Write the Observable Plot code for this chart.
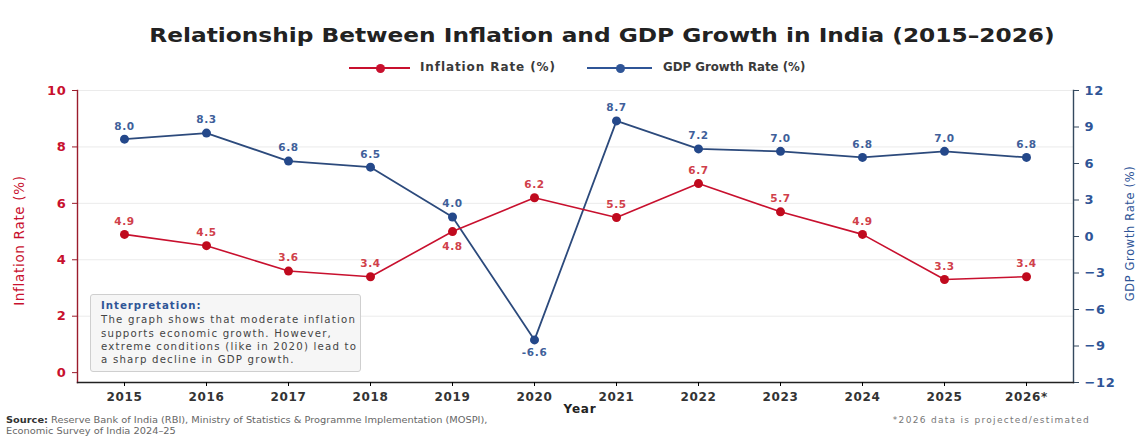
<!DOCTYPE html>
<html>
<head>
<meta charset="utf-8">
<script src="https://cdn.jsdelivr.net/npm/d3@7"></script>
<script src="https://cdn.jsdelivr.net/npm/@observablehq/plot@0.6"></script>
<style>
  html, body { margin: 0; padding: 0; background: #fff; width: 1142px; height: 441px; overflow: hidden; font-family: "DejaVu Sans", sans-serif; }
  #title { position: absolute; top: 23px; left: 31px; width: 1142px; text-align: center; font-size: 20px; font-weight: 700; color: #222; transform: scaleX(1.163); transform-origin: 571px 0; white-space: nowrap; }
  #legend { position: absolute; top: 60px; left: 0; width: 1142px; height: 16px; font-size: 12px; font-weight: 700; color: #3a3a3a; }
  .sw { position: absolute; top: 1px; height: 14px; }
  .sw .ln { position: absolute; left: 0; right: 0; top: 6px; height: 2px; }
  .sw .dt { position: absolute; top: 3px; width: 9px; height: 9px; border-radius: 50%; margin-left: -4.5px; }
  .lt { position: absolute; top: 0; white-space: nowrap; }
  #chart { position: absolute; top: 80px; left: 0; }
  #box { position: absolute; left: 90px; top: 294px; width: 259px; height: 68px; background: rgba(245,245,245,0.95); border: 1px solid #cfcfcf; border-radius: 3px; padding: 4px 0 4px 10px; font-size: 10.2px; line-height: 13.3px; letter-spacing: 1.2px; color: #444; white-space: nowrap; overflow: hidden; }
  #box b { color: #2f5597; display: block; margin-bottom: 1px; letter-spacing: 1px; }
  #xlabel { position: absolute; top: 402px; left: 0; width: 1142px; text-align: center; font-size: 12px; font-weight: 700; color: #222; letter-spacing: 0.8px; padding-left: 18px; box-sizing: border-box; }
  #src { position: absolute; left: 6px; top: 415px; font-size: 8.4px; line-height: 11px; color: #666; white-space: nowrap; transform: scaleX(1.17); transform-origin: left top; }
  #src b { color: #333; }
  #note { position: absolute; right: 52px; top: 415px; font-size: 9px; color: #777; letter-spacing: 1.3px; }
</style>
</head>
<body>
<div id="title">Relationship Between Inflation and GDP Growth in India (2015–2026)</div>
<div id="legend"></div>
<div id="chart"></div>
<div id="box"><b>Interpretation:</b>The graph shows that moderate inflation<br>supports economic growth. However,<br>extreme conditions (like in 2020) lead to<br>a sharp decline in GDP growth.</div>
<div id="xlabel">Year</div>
<div id="src"><b>Source:</b> Reserve Bank of India (RBI), Ministry of Statistics &amp; Programme Implementation (MOSPI),<br>Economic Survey of India 2024–25</div>
<div id="note">*2026 data is projected/estimated</div>
<script>
const years = ["2015","2016","2017","2018","2019","2020","2021","2022","2023","2024","2025","2026*"];
const inflation = [4.9, 4.5, 3.6, 3.4, 5.0, 6.2, 5.5, 6.7, 5.7, 4.9, 3.3, 3.4];
const inflationLabels = ["4.9","4.5","3.6","3.4","4.8","6.2","5.5","6.7","5.7","4.9","3.3","3.4"];
const gdp = [8.0, 8.5, 6.2, 5.7, 1.6, -8.5, 9.5, 7.2, 7.0, 6.5, 7.0, 6.5];
const gdpLabels = ["8.0","8.3","6.8","6.5","4.0","-6.6","8.7","7.2","7.0","6.8","7.0","6.8"];
const leftTicks = [0, 2, 4, 6, 8, 10];
const rightTicks = [-12, -9, -6, -3, 0, 3, 6, 9, 12];
const seriesNames = ["Inflation Rate (%)", "GDP Growth Rate (%)"];

const RED = "#c8102e", RED_DARK = "#9b1c2c";
const BLUE = "#2f5597", BLUE_DARK = "#2c4a7c";

const leftDom = [-0.35, 10];
const rightDom = [-12, 12];
const toLeft = g => leftDom[0] + (g - rightDom[0]) / (rightDom[1] - rightDom[0]) * (leftDom[1] - leftDom[0]);
const toRight = v => rightDom[0] + (v - leftDom[0]) / (leftDom[1] - leftDom[0]) * (rightDom[1] - rightDom[0]);

const infl = years.map((y, i) => ({year: y, v: inflation[i], label: inflationLabels[i], below: y === "2019"}));
const gd = years.map((y, i) => ({year: y, v: toLeft(gdp[i]), label: gdpLabels[i], below: gdp[i] < 0}));

// legend (layout positions)
const lg = document.getElementById("legend");
const legendLayout = [
  {name: seriesNames[0], color: RED, lineL: 349, lineW: 61, dot: 31, textL: 420, ls: "0.9px", fs: "12px"},
  {name: seriesNames[1], color: BLUE, lineL: 587, lineW: 65, dot: 33, textL: 663, ls: "0px", fs: "11.8px"}
];
legendLayout.forEach(o => {
  lg.insertAdjacentHTML("beforeend",
    `<div class="sw" style="left:${o.lineL}px;width:${o.lineW}px"><div class="ln" style="background:${o.color}"></div><div class="dt" style="left:${o.dot}px;background:${o.color}"></div></div>` +
    `<div class="lt" style="left:${o.textL}px;letter-spacing:${o.ls};font-size:${o.fs}">${o.name}</div>`);
});

const fmt = d3.format("d");
const chart = Plot.plot({
  width: 1142,
  height: 340,
  marginTop: 10,
  marginBottom: 38,
  marginLeft: 77,
  marginRight: 69,
  style: {fontFamily: "DejaVu Sans, sans-serif", background: "transparent", letterSpacing: "0.7px"},
  x: {type: "point", domain: years, padding: 0.536, label: null},
  y: {domain: leftDom, label: null},
  marks: [
    Plot.ruleY(leftTicks.filter(d => d > 0), {stroke: "#e6e6e6", strokeWidth: 0.8}),
    Plot.frame({anchor: "left", stroke: RED_DARK, strokeWidth: 1.4}),
    Plot.frame({anchor: "right", stroke: "#34495e", strokeWidth: 1.4}),
    Plot.frame({anchor: "bottom", stroke: "#222", strokeWidth: 1.4}),
    Plot.axisY(leftTicks, {anchor: "left", tickSize: 5, tickPadding: 6, stroke: RED_DARK, fill: RED, fontSize: 13, fontWeight: "bold", label: null}),
    Plot.axisY(rightTicks.map(toLeft), {anchor: "right", tickSize: 5, tickPadding: 6, stroke: "#34495e", fill: BLUE, fontSize: 13, fontWeight: "bold", label: null, tickFormat: d => fmt(Math.round(toRight(d)))}),
    Plot.axisX({anchor: "bottom", tickSize: 4, tickPadding: 6, fontSize: 12, fontWeight: "bold", fill: "#333", label: null}),
    Plot.text([seriesNames[0]], {frameAnchor: "left", textAnchor: "middle", dx: -58, dy: 4, rotate: -90, fill: RED, fontSize: 13.5}),
    Plot.text([seriesNames[1]], {frameAnchor: "right", textAnchor: "middle", dx: 57, dy: -3, rotate: -90, fill: BLUE, fontSize: 11.4}),
    Plot.line(gd, {x: "year", y: "v", stroke: BLUE_DARK, strokeWidth: 1.8}),
    Plot.line(infl, {x: "year", y: "v", stroke: RED, strokeWidth: 1.6}),
    Plot.dot(gd, {x: "year", y: "v", r: 4.5, fill: "#24488a"}),
    Plot.dot(infl, {x: "year", y: "v", r: 4.5, fill: "#c00a1e"}),
    Plot.text(gd.filter(d => !d.below), {x: "year", y: "v", text: "label", dy: -13, fill: "#3f5f9a", fontSize: 10.5, fontWeight: "bold"}),
    Plot.text(gd.filter(d => d.below), {x: "year", y: "v", text: "label", dy: 13, fill: "#3f5f9a", fontSize: 10.5, fontWeight: "bold"}),
    Plot.text(infl.filter(d => !d.below), {x: "year", y: "v", text: "label", dy: -13, fill: "#d0404a", fontSize: 10.5, fontWeight: "bold"}),
    Plot.text(infl.filter(d => d.below), {x: "year", y: "v", text: "label", dy: 15, fill: "#d0404a", fontSize: 10.5, fontWeight: "bold"})
  ]
});
document.getElementById("chart").appendChild(chart);
</script>
</body>
</html>
